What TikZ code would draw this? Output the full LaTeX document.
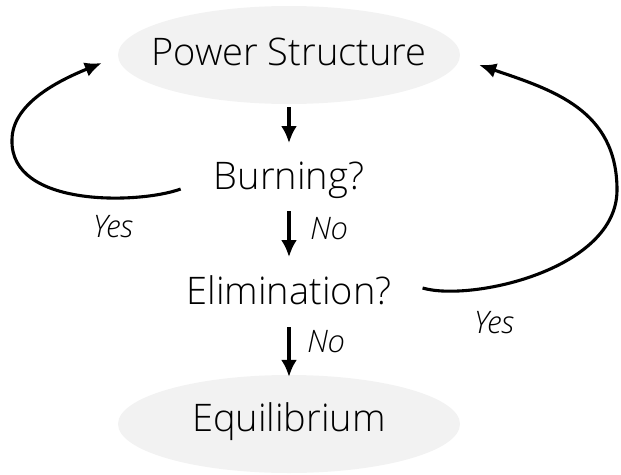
\documentclass[tikz,border=0pt]{standalone}
\usepackage{fontspec}
\setmainfont{Open Sans}[UprightFont=* Light, ItalicFont=* Light Italic]
\usetikzlibrary{arrows.meta,shapes.geometric}
\definecolor{ellfill}{HTML}{F2F2F2}
\tikzset{
  ellbox/.style={ellipse, fill=ellfill, draw=none, minimum width=342pt, minimum height=98pt,
    inner xsep=-70pt, inner ysep=0pt, text depth=0pt, font=\fontsize{38pt}{42pt}\selectfont},
  maintext/.style={inner sep=0pt, anchor=base, font=\fontsize{38pt}{42pt}\selectfont},
  lab/.style={inner sep=0pt, anchor=base, font=\fontsize{31pt}{34pt}\selectfont\itshape},
  arr/.style={line width=3.1pt, -{Latex[length=17pt,width=16pt]}},
  arcarr/.style={line width=3.1pt, -{Latex[length=17pt,width=15pt]}}
}
\begin{document}
\begin{tikzpicture}[x=1pt,y=-1pt]
\useasboundingbox (0,0) rectangle (621,474);
\node[ellbox, text height=20pt] (ps) at (289,55) {Power Structure};
\node[ellbox, text height=14pt] (eq) at (289,424) {Equilibrium};
\node[maintext] (burn) at (289,189) {Burning?};
\node[maintext] (elim) at (289,304) {Elimination?};
\node[lab] (yesl) at (113,237) {Yes};
\node[lab] (no1) at (329,239) {No};
\node[lab] (no2) at (326,352) {No};
\node[lab] (yesr) at (494,333) {Yes};
\draw[arr] ([yshift=-3pt]ps.south) -- ([yshift=46pt]burn.base);
\draw[arr] ([yshift=-22pt]burn.base) -- ([yshift=47pt]elim.base);
\draw[arr] ([yshift=-23pt]elim.base) -- ([yshift=-2pt]eq.north);
\draw[arcarr] ([xshift=-33pt]burn.base west)
  .. controls (140,204) and (10,208) .. (12,140)
  .. controls (12,105) and (55,82) .. ([xshift=-16pt,yshift=-8pt]ps.west);
\draw[arcarr] ([xshift=31pt,yshift=16pt]elim.base east)
  .. controls (470,302) and (617,270) .. (617,190)
  .. controls (617,110) and (553,90) .. ([xshift=19pt,yshift=-10pt]ps.east);
\end{tikzpicture}
\end{document}
